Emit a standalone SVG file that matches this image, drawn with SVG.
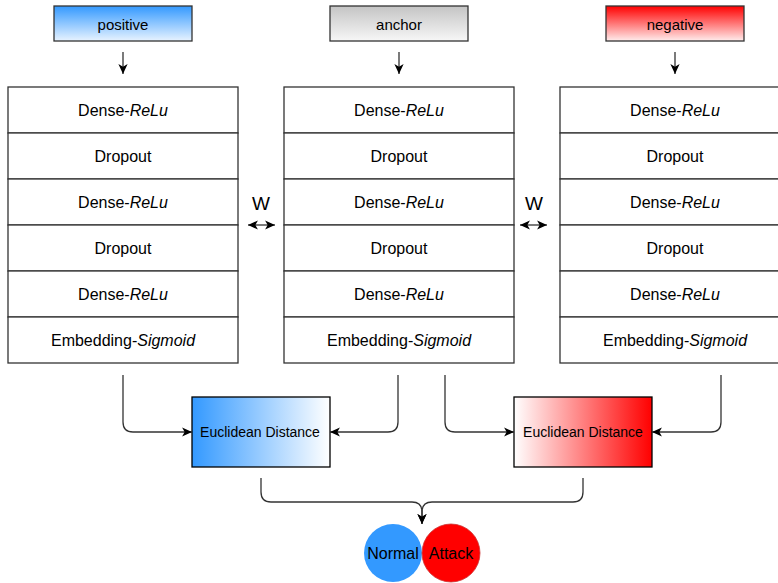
<svg xmlns="http://www.w3.org/2000/svg" width="778" height="583" viewBox="0 0 778 583">
<style>
text{font-family:"Liberation Sans",Arial,Helvetica,sans-serif;fill:#000;text-anchor:middle;dominant-baseline:central}
.lbl{font-size:15px}
.cl{font-size:16px}
.ed{font-size:14px}
.w{font-size:19px}
.big{font-size:16px}
.cell{fill:#fff;stroke:#333;stroke-width:1.3}
.top{stroke:#333;stroke-width:1.3}
.edbox{stroke:#000;stroke-width:1.3}
.conn{fill:none;stroke:#333;stroke-width:1.3}
</style>
<defs>
<linearGradient id="gPos" x1="0" y1="0" x2="0" y2="1"><stop offset="0" stop-color="#3399FF"/><stop offset="1" stop-color="#E8F3FF"/></linearGradient>
<linearGradient id="gAnc" x1="0" y1="0" x2="0" y2="1"><stop offset="0" stop-color="#C4C4C4"/><stop offset="1" stop-color="#F7F7F7"/></linearGradient>
<linearGradient id="gNeg" x1="0" y1="0" x2="0" y2="1"><stop offset="0" stop-color="#FF0000"/><stop offset="1" stop-color="#FFEDED"/></linearGradient>
<linearGradient id="gEdB" x1="0" y1="0" x2="1" y2="0"><stop offset="0" stop-color="#3399FF"/><stop offset="1" stop-color="#FFFFFF"/></linearGradient>
<linearGradient id="gEdR" x1="0" y1="0" x2="1" y2="0"><stop offset="0" stop-color="#FFFFFF"/><stop offset="1" stop-color="#FF0000"/></linearGradient>
<marker id="arr" markerUnits="userSpaceOnUse" markerWidth="11" markerHeight="11" viewBox="0 0 10 10" refX="9.5" refY="5" orient="auto-start-reverse">
<path d="M0.5,0.8 L9.5,5 L0.5,9.2 L2.8,5 Z" fill="#000"/>
</marker>
</defs>

<g id="positive"><rect x="54" y="6" width="138" height="35" fill="url(#gPos)" class="top"/><text class="lbl" x="123" y="24">positive</text></g>
<g id="anchor"><rect x="330" y="6" width="138" height="35" fill="url(#gAnc)" class="top"/><text class="lbl" x="399" y="24">anchor</text></g>
<g id="negative"><rect x="606" y="6" width="138" height="35" fill="url(#gNeg)" class="top"/><text class="lbl" x="675" y="24">negative</text></g>

<g id="stack-positive">
<rect class="cell" x="8" y="87" width="230" height="46"/><text class="cl" x="123" y="110">Dense-<tspan font-style="italic">ReLu</tspan></text>
<rect class="cell" x="8" y="133" width="230" height="46"/><text class="cl" x="123" y="156">Dropout</text>
<rect class="cell" x="8" y="179" width="230" height="46"/><text class="cl" x="123" y="202">Dense-<tspan font-style="italic">ReLu</tspan></text>
<rect class="cell" x="8" y="225" width="230" height="46"/><text class="cl" x="123" y="248">Dropout</text>
<rect class="cell" x="8" y="271" width="230" height="46"/><text class="cl" x="123" y="294">Dense-<tspan font-style="italic">ReLu</tspan></text>
<rect class="cell" x="8" y="317" width="230" height="46"/><text class="cl" x="123" y="340">Embedding-<tspan font-style="italic">Sigmoid</tspan></text>
</g>
<g id="stack-anchor">
<rect class="cell" x="284" y="87" width="230" height="46"/><text class="cl" x="399" y="110">Dense-<tspan font-style="italic">ReLu</tspan></text>
<rect class="cell" x="284" y="133" width="230" height="46"/><text class="cl" x="399" y="156">Dropout</text>
<rect class="cell" x="284" y="179" width="230" height="46"/><text class="cl" x="399" y="202">Dense-<tspan font-style="italic">ReLu</tspan></text>
<rect class="cell" x="284" y="225" width="230" height="46"/><text class="cl" x="399" y="248">Dropout</text>
<rect class="cell" x="284" y="271" width="230" height="46"/><text class="cl" x="399" y="294">Dense-<tspan font-style="italic">ReLu</tspan></text>
<rect class="cell" x="284" y="317" width="230" height="46"/><text class="cl" x="399" y="340">Embedding-<tspan font-style="italic">Sigmoid</tspan></text>
</g>
<g id="stack-negative">
<rect class="cell" x="560" y="87" width="230" height="46"/><text class="cl" x="675" y="110">Dense-<tspan font-style="italic">ReLu</tspan></text>
<rect class="cell" x="560" y="133" width="230" height="46"/><text class="cl" x="675" y="156">Dropout</text>
<rect class="cell" x="560" y="179" width="230" height="46"/><text class="cl" x="675" y="202">Dense-<tspan font-style="italic">ReLu</tspan></text>
<rect class="cell" x="560" y="225" width="230" height="46"/><text class="cl" x="675" y="248">Dropout</text>
<rect class="cell" x="560" y="271" width="230" height="46"/><text class="cl" x="675" y="294">Dense-<tspan font-style="italic">ReLu</tspan></text>
<rect class="cell" x="560" y="317" width="230" height="46"/><text class="cl" x="675" y="340">Embedding-<tspan font-style="italic">Sigmoid</tspan></text>
</g>

<g id="w-left"><text class="w" x="261" y="203">W</text></g>
<g id="w-right"><text class="w" x="534" y="203">W</text></g>

<g id="ed-blue"><rect x="192" y="397" width="138" height="70" fill="url(#gEdB)" class="edbox"/><text class="ed" x="260" y="432">Euclidean Distance</text></g>
<g id="ed-red"><rect x="514" y="397" width="138" height="70" fill="url(#gEdR)" class="edbox"/><text class="ed" x="583" y="432">Euclidean Distance</text></g>

<g id="normal"><circle cx="393" cy="553" r="29" fill="#3399FF"/><text class="big" x="393" y="553">Normal</text></g>
<g id="attack"><circle cx="451" cy="553" r="29" fill="#FF0000" stroke="#C33" stroke-width="0.8"/><text class="big" x="451" y="553">Attack</text></g>

<g id="connectors">
<path class="conn" d="M123 52 V74" marker-end="url(#arr)"/>
<path class="conn" d="M399 52 V74" marker-end="url(#arr)"/>
<path class="conn" d="M675 52 V74" marker-end="url(#arr)"/>
<path class="conn" d="M248 225 H275" marker-start="url(#arr)" marker-end="url(#arr)"/>
<path class="conn" d="M520 225 H547" marker-start="url(#arr)" marker-end="url(#arr)"/>
<path class="conn" d="M123 375 V422 Q123 432 133 432 H192" marker-end="url(#arr)"/>
<path class="conn" d="M398 375 V422 Q398 432 388 432 H330" marker-end="url(#arr)"/>
<path class="conn" d="M445 375 V422 Q445 432 455 432 H514" marker-end="url(#arr)"/>
<path class="conn" d="M721 375 V422 Q721 432 711 432 H652" marker-end="url(#arr)"/>
<path class="conn" d="M261 478 V492 Q261 502 271 502 H412 Q422 502 422 512 V524" marker-end="url(#arr)"/>
<path class="conn" d="M583 478 V492 Q583 502 573 502 H432 Q422 502 422 512 V524" marker-end="url(#arr)"/>
</g>
</svg>
